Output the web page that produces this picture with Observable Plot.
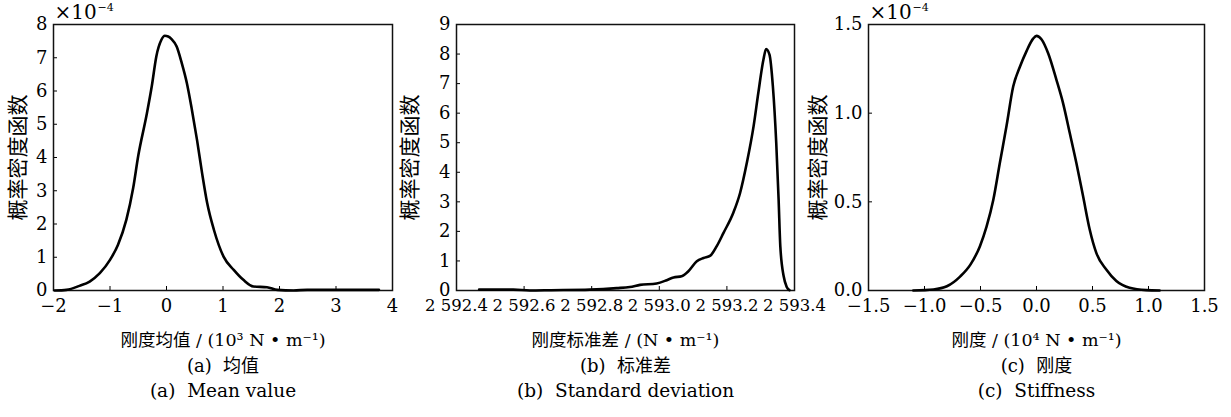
<!DOCTYPE html>
<html>
<head>
<meta charset="utf-8">
<script src="https://cdn.jsdelivr.net/npm/d3@7"></script>
<script src="https://cdn.jsdelivr.net/npm/@observablehq/plot@0.6"></script>
<style>
  html, body { margin: 0; padding: 0; background: #fff; }
  #row { display: flex; flex-direction: row; width: 1231px; height: 417px; }
  #row svg { overflow: visible !important; background: transparent !important; }
</style>
</head>
<body>
<div id="row"></div>
<script>
// ---- Panel (a): mean value (x in 10^3 N/m, y in 1e-4) ----
const meanX = [-1.98, -1.77, -1.54, -1.36, -1.18, -1.0, -0.86, -0.71, -0.59, -0.50, -0.35, -0.26, -0.18, -0.09, -0.03, 0.03, 0.09, 0.18, 0.27, 0.36, 0.45, 0.54, 0.63, 0.72, 0.84, 1.01, 1.19, 1.36, 1.54, 1.78, 1.96, 2.25, 2.49, 3.10, 3.76];
const meanY = [0.0, 0.02, 0.14, 0.27, 0.52, 0.92, 1.37, 2.13, 3.08, 4.05, 5.3, 6.15, 7.04, 7.54, 7.66, 7.64, 7.56, 7.34, 6.84, 6.24, 5.43, 4.53, 3.53, 2.63, 1.82, 1.02, 0.62, 0.32, 0.12, 0.10, 0.02, 0.0, 0.02, 0.02, 0.02];
const meanXTicks = [-2, -1, 0, 1, 2, 3, 4];
const meanYTicks = [0, 1, 2, 3, 4, 5, 6, 7, 8];

// ---- Panel (b): standard deviation (x in N/m) ----
const sdX = [2592.467, 2592.568, 2592.617, 2592.680, 2592.795, 2592.874, 2592.913, 2592.943, 2592.992, 2593.022, 2593.042, 2593.066, 2593.086, 2593.111, 2593.131, 2593.151, 2593.170, 2593.190, 2593.219, 2593.239, 2593.259, 2593.279, 2593.293, 2593.308, 2593.316, 2593.326, 2593.336, 2593.346, 2593.353, 2593.358, 2593.368, 2593.377, 2593.385];
const sdY = [0.03, 0.03, 0.0, 0.01, 0.03, 0.08, 0.12, 0.19, 0.24, 0.35, 0.44, 0.48, 0.65, 0.99, 1.10, 1.18, 1.50, 1.95, 2.63, 3.30, 4.32, 5.56, 6.69, 7.81, 8.17, 7.98, 6.91, 4.99, 3.08, 1.50, 0.48, 0.12, 0.01];
const sdXTicks = [2592.4, 2592.6, 2592.8, 2593.0, 2593.2, 2593.4];
const sdYTicks = [0, 1, 2, 3, 4, 5, 6, 7, 8, 9];

// ---- Panel (c): stiffness (x in 10^4 N/m, y in 1e-4) ----
const stX = [-1.10, -0.92, -0.80, -0.68, -0.59, -0.505, -0.446, -0.386, -0.327, -0.267, -0.208, -0.149, -0.089, -0.030, 0.0, 0.044, 0.104, 0.178, 0.237, 0.297, 0.356, 0.416, 0.475, 0.534, 0.623, 0.713, 0.831, 0.980, 1.099];
const stY = [0.0, 0.006, 0.024, 0.08, 0.146, 0.25, 0.36, 0.51, 0.72, 0.93, 1.15, 1.26, 1.35, 1.42, 1.436, 1.417, 1.338, 1.188, 1.057, 0.888, 0.719, 0.531, 0.344, 0.212, 0.118, 0.053, 0.015, 0.002, 0.0];
const stXTicks = [-1.5, -1.0, -0.5, 0.0, 0.5, 1.0, 1.5];
const stYTicks = [0.0, 0.5, 1.0, 1.5];

const yLabel = "概率密度函数";
const panels = [
  {x: meanX, y: meanY, xDomain: [-2, 4], yDomain: [0, 8], xTicks: meanXTicks, yTicks: meanYTicks,
   xFmt: d3.format("d"), yFmt: d3.format("d"), exp: "×10", expSup: "−4", xTickSize: 18,
   xLabel: "刚度均值 / (10³ N • m⁻¹)", cap1: "(a)  均值", cap2: "(a)  Mean value",
   width: 410, ml: 53, mr: 18, ylDx: -35},
  {x: sdX, y: sdY, xDomain: [2592.4, 2593.4], yDomain: [0, 9], xTicks: sdXTicks, yTicks: sdYTicks,
   xFmt: d => `${Math.floor(d / 1000)} ${(d - 1000 * Math.floor(d / 1000)).toFixed(1)}`, yFmt: d3.format("d"), exp: null, xTickSize: 16.5,
   xLabel: "刚度标准差 / (N • m⁻¹)", cap1: "(b)  标准差", cap2: "(b)  Standard deviation",
   width: 402, ml: 46, mr: 18, ylDx: -46},
  {x: stX, y: stY, xDomain: [-1.5, 1.5], yDomain: [0, 1.5], xTicks: stXTicks, yTicks: stYTicks,
   xFmt: d3.format(".1f"), yFmt: d3.format(".1f"), exp: "×10", expSup: "−4", xTickSize: 18,
   xLabel: "刚度 / (10⁴ N • m⁻¹)", cap1: "(c)  刚度", cap2: "(c)  Stiffness",
   width: 419, ml: 56, mr: 27, ylDx: -50}
];

const serif = "DejaVu Serif";
const mixed = "'DejaVu Serif', 'Noto Sans CJK SC', serif";
const cjk = "Noto Sans CJK SC";
const row = document.getElementById("row");
for (const p of panels) {
  const data = p.x.map((x, i) => ({x, y: p.y[i]}));
  const marks = [
    Plot.axisX({ticks: p.xTicks, tickFormat: p.xFmt, tickSize: -4, tickPadding: 13, label: null, fontSize: p.xTickSize, fontFamily: serif}),
    Plot.axisY({ticks: p.yTicks, tickFormat: p.yFmt, tickSize: -4, tickPadding: 10, label: null, fontSize: 18, fontFamily: serif}),
    Plot.frame({stroke: "#111", strokeWidth: 1.5}),
    Plot.line(data, {x: "x", y: "y", stroke: "#000", strokeWidth: 2.6, curve: "monotone-x"}),
    Plot.text([yLabel], {text: d => d, frameAnchor: "left", textAnchor: "middle", lineAnchor: "middle", rotate: -90, dx: p.ylDx, fontSize: 21, fontFamily: cjk}),
    Plot.text([p.xLabel], {text: d => d, frameAnchor: "bottom", textAnchor: "middle", lineAnchor: "middle", dy: 50, fontSize: 17.5, fontFamily: mixed}),
    Plot.text([p.cap1], {text: d => d, frameAnchor: "bottom", textAnchor: "middle", lineAnchor: "middle", dy: 76, fontSize: 18, fontFamily: mixed}),
    Plot.text([p.cap2], {text: d => d, frameAnchor: "bottom", textAnchor: "middle", lineAnchor: "middle", dy: 101, fontSize: 18.5, fontFamily: mixed})
  ];
  if (p.exp) {
    marks.push(Plot.text([p.exp], {text: d => d, frameAnchor: "top-left", textAnchor: "start", lineAnchor: "middle", dy: -12, dx: 1, fontSize: 20, fontFamily: serif}));
    marks.push(Plot.text([p.expSup], {text: d => d, frameAnchor: "top-left", textAnchor: "start", lineAnchor: "middle", dy: -17, dx: 44, fontSize: 11, fontFamily: serif}));
  }
  const chart = Plot.plot({
    width: p.width, height: 417,
    marginLeft: p.ml, marginRight: p.mr, marginTop: 24, marginBottom: 127,
    x: {domain: p.xDomain},
    y: {domain: p.yDomain},
    style: {fontFamily: mixed, fontSize: "18px", color: "#000", background: "transparent", overflow: "visible"},
    marks
  });
  row.appendChild(chart);
}
</script>
</body>
</html>
